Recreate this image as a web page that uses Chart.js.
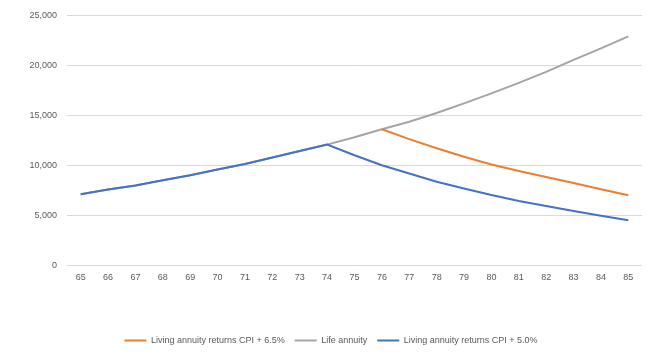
<!DOCTYPE html>
<html>
<head>
<meta charset="utf-8">
<script src="https://cdn.jsdelivr.net/npm/chart.js@4/dist/chart.umd.min.js"></script>
<style>
  html, body { margin: 0; padding: 0; background: #ffffff; }
  #wrap { width: 660px; height: 355px; position: relative; }
</style>
</head>
<body>
<div id="wrap"><canvas id="c" width="660" height="355"></canvas></div>
<script>
const ages = ['65','66','67','68','69','70','71','72','73','74','75','76','77','78','79','80','81','82','83','84','85'];
const livingAnnuity65 = [null,null,null,null,null,null,null,null,null,null,null,13600,12620,11700,10850,10080,9430,8830,8230,7600,7000];
const lifeAnnuity = [7100,7570,7980,8500,9000,9570,10130,10770,11430,12070,12800,13600,14350,15230,16200,17200,18250,19350,20550,21700,22900];
const livingAnnuity50 = [7100,7570,7980,8500,9000,9570,10130,10770,11430,12070,11000,10000,9180,8360,7680,7020,6430,5930,5430,4960,4500];
const seriesNames = ['Living annuity returns CPI + 6.5%','Life annuity','Living annuity returns CPI + 5.0%'];
const yTicks = [0,5000,10000,15000,20000,25000];

const FONT = 'Liberation Sans';
const TXT = '#595959';

const shiftLegend = {
  id: 'shiftLegend',
  afterLayout(chart) {
    if (chart.legend) { chart.legend.left += 10; chart.legend.right += 10; }
  }
};

new Chart(document.getElementById('c'), {
  type: 'line',
  data: {
    labels: ages,
    datasets: [
      { label: seriesNames[0], data: livingAnnuity65, borderColor: '#ED7D31', backgroundColor: '#ED7D31', borderWidth: 2, pointRadius: 0, tension: 0, order: 2 },
      { label: seriesNames[1], data: lifeAnnuity, borderColor: '#A5A5A5', backgroundColor: '#A5A5A5', borderWidth: 2, pointRadius: 0, tension: 0, order: 3 },
      { label: seriesNames[2], data: livingAnnuity50, borderColor: '#4472C4', backgroundColor: '#4472C4', borderWidth: 2, pointRadius: 0, tension: 0, order: 1 }
    ]
  },
  plugins: [shiftLegend],
  options: {
    responsive: false,
    animation: false,
    layout: { padding: { top: 10, right: 18, left: 0, bottom: 0 } },
    plugins: {
      tooltip: { enabled: false },
      legend: {
        position: 'bottom',
        labels: {
          sort: (a, b) => a.datasetIndex - b.datasetIndex,
          boxWidth: 22,
          boxHeight: 0,
          color: TXT,
          font: { family: FONT, size: 9 },
          padding: 10
        }
      }
    },
    scales: {
      x: {
        offset: true,
        grid: { display: false, drawTicks: false },
        border: { display: false },
        ticks: { color: TXT, font: { family: FONT, size: 9 }, padding: 7, maxRotation: 0, autoSkip: false },
        afterFit: (s) => { s.height += 36; }
      },
      y: {
        min: 0,
        max: 25000,
        afterBuildTicks: (s) => { s.ticks = yTicks.map(v => ({ value: v })); },
        grid: { color: '#D9D9D9', lineWidth: 1, drawTicks: false },
        border: { display: false },
        ticks: {
          color: TXT,
          font: { family: FONT, size: 9 },
          padding: 10,
          callback: (v) => Number(v).toLocaleString('en-US')
        },
        afterFit: (s) => { s.width = 67; }
      }
    }
  }
});
</script>
</body>
</html>
